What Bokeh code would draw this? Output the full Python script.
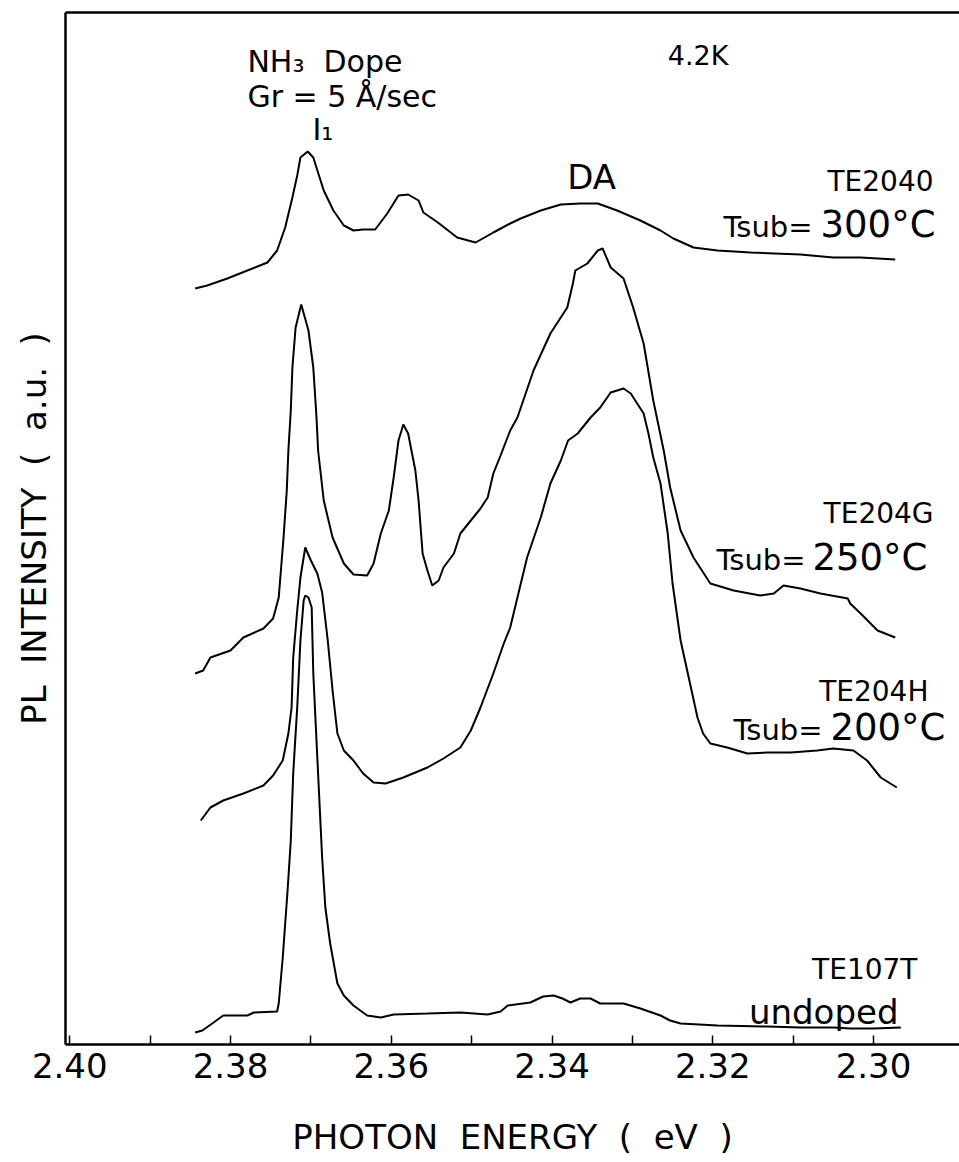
from bokeh.plotting import figure
from bokeh.models import Range1d, FixedTicker, PrintfTickFormatter, LinearAxis, Label
from bokeh.embed import file_html
from bokeh.resources import INLINE

FONT = "DejaVu Sans"

# ---- data (photon energy in eV, PL intensity in arbitrary units) ----
te2040_e = [2.3844, 2.3829, 2.3804, 2.3779, 2.3754, 2.3742, 2.3732, 2.3723, 2.3717, 2.3713,
            2.3704, 2.3697, 2.3684, 2.3672, 2.3659, 2.3647, 2.3635, 2.3620, 2.3605, 2.3591,
            2.3579, 2.3566, 2.3560, 2.3542, 2.3518, 2.3495, 2.3473, 2.3452, 2.3439, 2.3414,
            2.3389, 2.3365, 2.3343, 2.3319, 2.3290, 2.3265, 2.3249, 2.3224, 2.3194, 2.3153,
            2.3091, 2.3050, 2.3016, 2.2973]
te2040_i = [756, 759, 766, 774, 782, 794, 817, 847, 869, 887,
            893, 887, 854, 834, 819, 814, 815, 815, 831, 849,
            850, 844, 832, 822, 807, 802, 812, 821, 826, 834,
            840, 841, 841, 834, 824, 814, 806, 797, 794, 792,
            790, 787, 787, 785]

te204g_e = [2.3844, 2.3834, 2.3825, 2.3800, 2.3784, 2.3759, 2.3747, 2.3742, 2.3740, 2.3734,
            2.3730, 2.3728, 2.3725, 2.3723, 2.3719, 2.3712, 2.3703, 2.3697, 2.3693, 2.3691,
            2.3684, 2.3673, 2.3659, 2.3647, 2.3630, 2.3622, 2.3613, 2.3603, 2.3597, 2.3591,
            2.3585, 2.3579, 2.3570, 2.3566, 2.3561, 2.3555, 2.3549, 2.3541, 2.3535, 2.3522,
            2.3514, 2.3501, 2.3489, 2.3480, 2.3473, 2.3464, 2.3452, 2.3443, 2.3423, 2.3402,
            2.3381, 2.3374, 2.3371, 2.3356, 2.3343, 2.3337, 2.3327, 2.3311, 2.3299, 2.3286,
            2.3274, 2.3261, 2.3253, 2.3240, 2.3224, 2.3203, 2.3174, 2.3141, 2.3124, 2.3112,
            2.3091, 2.3066, 2.3032, 2.3029, 2.3016, 2.2995, 2.2973]
te204g_i = [371, 374, 387, 394, 407, 416, 426, 441, 447, 507,
            554, 594, 634, 677, 717, 740, 714, 677, 627, 594,
            544, 507, 481, 470, 469, 481, 511, 534, 567, 604,
            620, 611, 574, 544, 491, 474, 459, 464, 477, 491,
            511, 524, 536, 547, 571, 589, 614, 627, 674, 711,
            737, 761, 774, 781, 794, 796, 777, 766, 737, 701,
            644, 594, 557, 514, 487, 461, 454, 449, 451, 459,
            456, 451, 446, 441, 431, 414, 407]

te204h_e = [2.3837, 2.3825, 2.3809, 2.3784, 2.3759, 2.3747, 2.3735, 2.3728, 2.3724, 2.3722,
            2.3717, 2.3713, 2.3707, 2.3700, 2.3692, 2.3686, 2.3679, 2.3673, 2.3667, 2.3659,
            2.3647, 2.3635, 2.3622, 2.3607, 2.3585, 2.3555, 2.3535, 2.3514, 2.3501, 2.3489,
            2.3473, 2.3460, 2.3452, 2.3443, 2.3431, 2.3414, 2.3402, 2.3389, 2.3380, 2.3368,
            2.3352, 2.3340, 2.3327, 2.3311, 2.3302, 2.3286, 2.3280, 2.3274, 2.3265, 2.3256,
            2.3250, 2.3240, 2.3231, 2.3219, 2.3212, 2.3203, 2.3182, 2.3157, 2.3132, 2.3103,
            2.3070, 2.3050, 2.3025, 2.3008, 2.2991, 2.2971]
te204h_i = [224, 237, 244, 251, 259, 269, 284, 311, 337, 387,
            434, 467, 497, 484, 471, 452, 404, 354, 311, 294,
            284, 271, 262, 261, 267, 277, 286, 297, 314, 337,
            371, 401, 417, 447, 487, 527, 561, 584, 604, 611,
            627, 637, 652, 656, 651, 631, 611, 587, 561, 511,
            461, 404, 371, 327, 311, 301, 297, 291, 292, 292,
            294, 296, 294, 284, 267, 257]

te107t_e = [2.3844, 2.3835, 2.3821, 2.3809, 2.3779, 2.3771, 2.3742, 2.3740, 2.3735, 2.3729,
            2.3725, 2.3722, 2.3717, 2.3713, 2.3709, 2.3707, 2.3703, 2.3699, 2.3697, 2.3692,
            2.3686, 2.3682, 2.3676, 2.3667, 2.3659, 2.3647, 2.3630, 2.3613, 2.3597, 2.3555,
            2.3514, 2.3480, 2.3464, 2.3455, 2.3427, 2.3411, 2.3398, 2.3387, 2.3377, 2.3365,
            2.3352, 2.3340, 2.3311, 2.3290, 2.3265, 2.3253, 2.3240, 2.3194, 2.3132, 2.3091,
            2.3050, 2.3029, 2.3000, 2.2966]
te107t_i = [12, 14, 22, 29, 29, 32, 33, 41, 87, 154,
            204, 271, 337, 404, 444, 449, 447, 437, 371, 287,
            187, 137, 101, 61, 49, 39, 29, 27, 30, 31,
            32, 30, 33, 39, 42, 48, 49, 46, 42, 46,
            46, 41, 41, 36, 29, 24, 21, 19, 18, 17,
            17, 16, 16, 17]

major_ticks = [2.40, 2.38, 2.36, 2.34, 2.32, 2.30]
minor_ticks = [2.39, 2.37, 2.35, 2.33, 2.31]

p = figure(width=959, height=1162,
           x_range=Range1d(2.40053, 2.2893), y_range=Range1d(0, 1032),
           output_backend="svg", toolbar_location=None,
           min_border_left=65, min_border_right=0, min_border_top=12, min_border_bottom=118)
p.outline_line_color = None
p.xgrid.visible = False
p.ygrid.visible = False
p.background_fill_color = "white"
p.border_fill_color = "white"

for xs, ys in [(te2040_e, te2040_i), (te204g_e, te204g_i), (te204h_e, te204h_i), (te107t_e, te107t_i)]:
    p.line(xs, ys, line_color="black", line_width=2)

# x axis
xa = p.xaxis[0]
xa.ticker = FixedTicker(ticks=major_ticks, minor_ticks=minor_ticks)
xa.formatter = PrintfTickFormatter(format="%.2f")
xa.major_tick_in = 9
xa.major_tick_out = 0
xa.minor_tick_in = 9
xa.minor_tick_out = 0
xa.major_tick_line_width = 1.5
xa.minor_tick_line_width = 1.5
xa.axis_line_width = 2.5
xa.major_label_text_font = FONT
xa.major_label_text_font_size = "34px"
xa.major_label_text_color = "black"
xa.major_label_standoff = 8
xa.axis_label = "PHOTON\u00a0\u00a0ENERGY\u00a0\u00a0(\u00a0\u00a0eV\u00a0\u00a0)"
xa.axis_label_text_font = FONT
xa.axis_label_text_font_size = "34px"
xa.axis_label_text_font_style = "normal"
xa.axis_label_text_color = "black"
xa.axis_label_standoff = 36

# y axis (no ticks, only the label)
ya = p.yaxis[0]
ya.ticker = FixedTicker(ticks=[], minor_ticks=[])
ya.major_tick_line_color = None
ya.minor_tick_line_color = None
ya.major_label_standoff = 0
ya.axis_line_width = 2.5
ya.axis_label = "PL\u00a0\u00a0INTENSITY\u00a0\u00a0(\u00a0\u00a0a.u.\u00a0\u00a0)"
ya.axis_label_text_font = FONT
ya.axis_label_text_font_size = "34px"
ya.axis_label_text_font_style = "normal"
ya.axis_label_text_color = "black"
ya.axis_label_standoff = 12

# top frame line
top = LinearAxis(ticker=FixedTicker(ticks=[], minor_ticks=[]),
                 major_tick_line_color=None, minor_tick_line_color=None,
                 major_label_standoff=0, axis_line_width=2.5)
p.add_layout(top, "above")


def lab(x, y, text, size, align="left", baseline="middle"):
    p.add_layout(Label(x=x, y=y, text=text, text_font=FONT, text_font_size=size,
                       text_align=align, text_baseline=baseline, text_color="black"))


lab(2.3779, 983, "NH\u2083\u00a0\u00a0Dope", "30px")
lab(2.3779, 948, "Gr = 5 \u00c5/sec", "30px")
lab(2.3698, 915, "I\u2081", "30px")
lab(2.3256, 989, "4.2K", "27px")
lab(2.3381, 868, "DA", "34px")

lab(2.29253, 863, "TE2040", "28px", align="right")
lab(2.30759, 818, "Tsub=", "29px", align="right")
lab(2.30659, 820, "300\u00b0C", "37px")

lab(2.29253, 531, "TE204G", "28px", align="right")
lab(2.30846, 485, "Tsub=", "29px", align="right")
lab(2.30759, 487, "250\u00b0C", "37px")

lab(2.29316, 353, "TE204H", "28px", align="right")
lab(2.30634, 315, "Tsub=", "29px", align="right")
lab(2.30535, 317, "200\u00b0C", "37px")

lab(2.29453, 75, "TE107T", "28px", align="right")
lab(2.29689, 33, "undoped", "34px", align="right", baseline="alphabetic")

open("out.html", "w").write(file_html(p, INLINE))
